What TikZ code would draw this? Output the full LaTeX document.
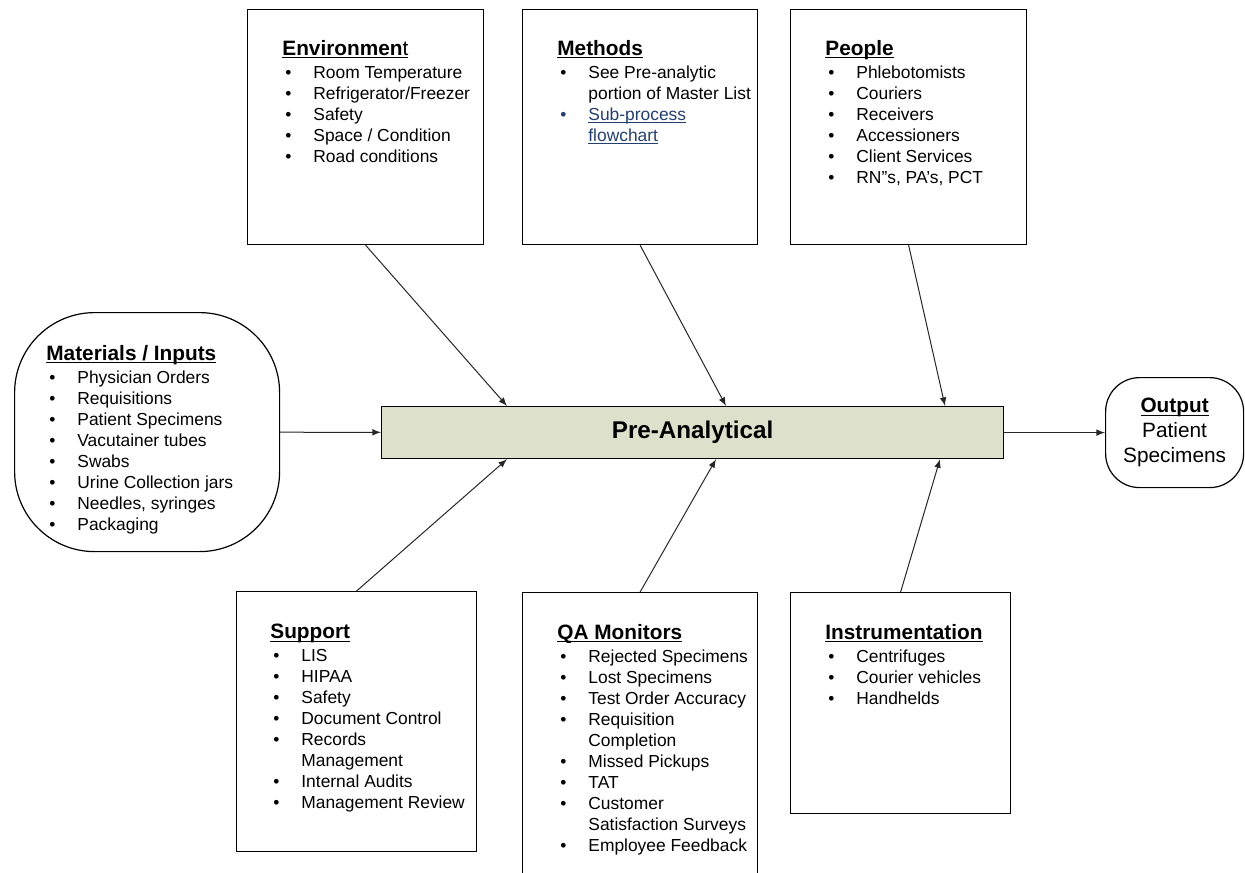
\documentclass[tikz,border=0pt]{standalone}
\usepackage{fontspec}
\setmainfont{Liberation Sans}
\usetikzlibrary{shapes, arrows}

\definecolor{preback}{RGB}{221,224,203}
\definecolor{linkblue}{RGB}{36,62,110}

\newcommand{\undl}[1]{\setbox0\hbox{#1}\rlap{\rule[-1.5pt]{\wd0}{0.55pt}}\box0}
\newcommand{\hd}[1]{{\fontsize{10.4}{12}\selectfont\bfseries\undl{#1}}}
\newcommand{\bul}{\makebox[15.5pt][l]{\hspace{1.5pt}\textbullet}}
\newcommand{\cont}{\hspace*{15.5pt}}

\begin{document}
\begin{tikzpicture}[x=0.5pt, y=-0.5pt]

\tikzstyle{box} = [rectangle, draw, line width=0.6pt, anchor=north west, inner sep=0pt]
\tikzstyle{roundbox} = [box, rounded corners=40pt]
\tikzstyle{list} = [anchor=north west, align=left, inner sep=0pt, font=\fontsize{8.7}{10.5}\selectfont]
\tikzstyle{arrow} = [line width=0.5pt, draw=black!85, ->, >=latex]

\useasboundingbox (0,0) rectangle (1245,872);

\node (envbox) [box, minimum width=118pt, minimum height=117.5pt] at (247,9) {};
\node (envlist) [list] at (282,40) {\hd{\textbf{Environmen}\mdseries t}\\[1pt]
\bul Room Temperature\\ \bul Refrigerator/Freezer\\ \bul Safety\\ \bul Space / Condition\\ \bul Road conditions};

\node (methbox) [box, minimum width=117.5pt, minimum height=117.5pt] at (522,9) {};
\node (methlist) [list] at (557,40) {\hd{Methods}\\[1pt]
\bul See Pre-analytic\\ \cont portion of Master List\\
{\color{linkblue}\bul\undl{Sub-process}}\\ \cont{\color{linkblue}\undl{flowchart}}};

\node (peopbox) [box, minimum width=118pt, minimum height=117.5pt] at (790,9) {};
\node (peoplist) [list] at (825,40) {\hd{People}\\[1pt]
\bul Phlebotomists\\ \bul Couriers\\ \bul Receivers\\ \bul Accessioners\\ \bul Client Services\\ \bul RN''s, PA's, PCT};

\node (matbox) [roundbox, minimum width=132.5pt, minimum height=119.5pt] at (14,312) {};
\node (matlist) [list] at (46,345) {\hd{Materials / Inputs}\\[1pt]
\bul Physician Orders\\ \bul Requisitions\\ \bul Patient Specimens\\ \bul Vacutainer tubes\\ \bul Swabs\\ \bul Urine Collection jars\\ \bul Needles, syringes\\ \bul Packaging};

\node (pre) [box, fill=preback, minimum width=311pt, minimum height=26pt, font=\fontsize{12.1}{14}\selectfont\bfseries] at (381,406) {Pre-Analytical};

\node (out) [box, rounded corners=17pt, minimum width=69pt, minimum height=55pt, align=center, font=\fontsize{10.4}{12.5}\selectfont] at (1105,377) {\hd{Output}\\ Patient\\ Specimens};

\node (supbox) [box, minimum width=120pt, minimum height=130pt] at (236,591) {};
\node (suplist) [list] at (270,624) {\hd{Support}\\[1pt]
\bul LIS\\ \bul HIPAA\\ \bul Safety\\ \bul Document Control\\ \bul Records\\ \cont Management\\ \bul Internal Audits\\ \bul Management Review};

\node (qabox) [box, minimum width=117.5pt, minimum height=150pt] at (522,592) {};
\node (qalist) [list] at (557,624) {\hd{QA Monitors}\\[1pt]
\bul Rejected Specimens\\ \bul Lost Specimens\\ \bul Test Order Accuracy\\ \bul Requisition\\ \cont Completion\\ \bul Missed Pickups\\ \bul TAT\\ \bul Customer\\ \cont Satisfaction Surveys\\ \bul Employee Feedback};

\node (insbox) [box, minimum width=110pt, minimum height=110.5pt] at (790,592) {};
\node (inslist) [list] at (825,624) {\hd{Instrumentation}\\[1pt]
\bul Centrifuges\\ \bul Courier vehicles\\ \bul Handhelds};

\draw [arrow] (envbox.south) -- ([xshift=63pt]pre.north west);
\draw [arrow] (methbox.south) -- ([xshift=172.5pt]pre.north west);
\draw [arrow] (peopbox.south) -- ([xshift=282pt]pre.north west);
\draw [arrow] (matbox) -- (pre);
\draw [arrow] (pre) -- (out);
\draw [arrow] (supbox.north) -- ([xshift=63pt]pre.south west);
\draw [arrow] (qabox.north) -- ([xshift=167.5pt]pre.south west);
\draw [arrow] (insbox.north) -- ([xshift=279.5pt]pre.south west);

\end{tikzpicture}
\end{document}
